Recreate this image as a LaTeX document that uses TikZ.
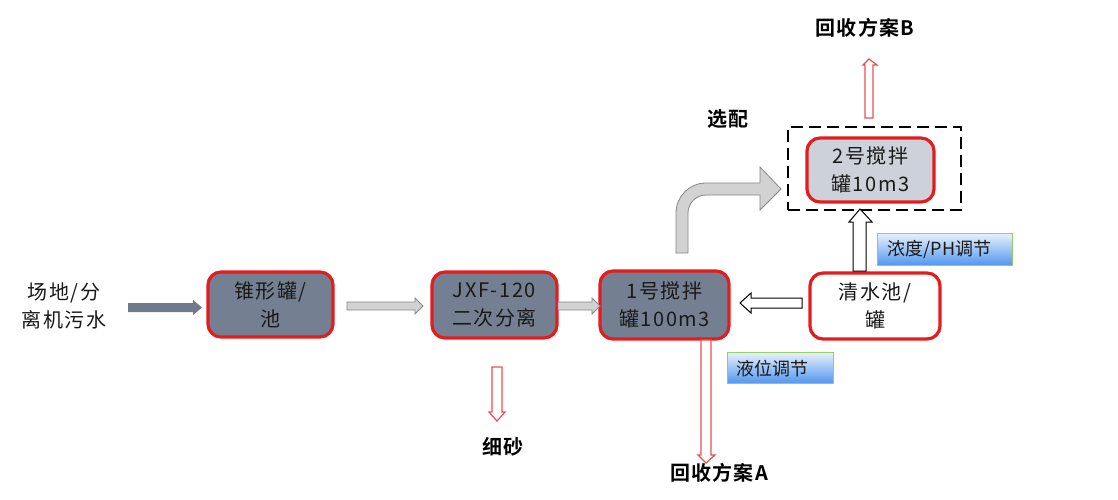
\documentclass[tikz,border=0pt]{standalone}
\usepackage{fontspec}
\setmainfont{Noto Sans CJK SC}
\newfontfamily\cjkb{Noto Sans CJK SC Bold}
\newfontfamily\cjkw[LetterSpace=8]{Noto Sans CJK SC}
\newfontfamily\cjkbw[LetterSpace=6]{Noto Sans CJK SC Bold}
\usetikzlibrary{shadings}
\definecolor{boxred}{RGB}{228,28,30}
\definecolor{slate}{RGB}{116,128,145}
\definecolor{lightslate}{RGB}{205,210,218}
\definecolor{darkarrow}{RGB}{111,123,140}
\definecolor{lgray}{RGB}{210,210,210}
\definecolor{mgray}{RGB}{135,135,135}
\definecolor{lblgreen}{RGB}{150,208,100}
\definecolor{lbltop}{RGB}{230,240,252}
\definecolor{lblbot}{RGB}{80,150,238}
\definecolor{arrred}{RGB}{235,80,80}
\begin{document}
\begin{tikzpicture}[x=1pt,y=-1pt,
  procbox/.style={draw=boxred, line width=3.2pt, rounded corners=13pt, align=center,
    font=\cjkw\fontsize{20}{28}\selectfont, text=black!90, inner sep=0pt},
  tag/.style={draw=lblgreen, line width=1.2pt, top color=lbltop, bottom color=lblbot,
    font=\fontsize{18}{20}\selectfont, text=black!90, inner sep=0pt, anchor=north west},
  boldlbl/.style={font=\cjkbw\fontsize{20}{22}\selectfont, text=black},
  grayarrow/.style={fill=lgray, draw=mgray, line width=0.8pt, line join=miter},
  whitearrow/.style={fill=white, draw=black, line width=1pt},
  redarrow/.style={fill=white, draw=arrred, line width=1.2pt}
]
\useasboundingbox (0,0) rectangle (1118,500);
\fill[white] (0,0) rectangle (1118,500);

% nodes
\node[align=center, font=\cjkw\fontsize{20}{28}\selectfont, text=black!90] (src) at (64,306) {场地/分\\离机污水};
\node[procbox, fill=slate, minimum width=125pt, minimum height=65pt] (cone) at (270.5,304.5) {锥形罐/\\池};
\node[procbox, fill=slate, minimum width=125pt, minimum height=66pt] (jxf) at (494.5,305) {JXF-120\\二次分离};
\node[procbox, fill=slate, minimum width=129pt, minimum height=68pt] (mix1) at (664.5,305) {1号搅拌\\罐100m3};
\node[procbox, fill=white, minimum width=130pt, minimum height=66pt] (clear) at (875,306) {清水池/\\罐};
\node[draw=black, line width=2.4pt, dash pattern=on 12pt off 6pt, minimum width=173pt, minimum height=83pt] (opt) at (874.5,168.5) {};
\node[procbox, fill=lightslate, minimum width=127pt, minimum height=64pt] (mix2) at (870.5,170) {2号搅拌\\罐10m3};

\node[tag, minimum width=135pt, minimum height=32pt, text width=115pt, align=left] (ph) at (877,233) {浓度/PH调节};
\node[tag, minimum width=106pt, minimum height=31pt, text width=88pt, align=left] (lvl) at (727,352) {液位调节};

\node[boldlbl] (sel) at (728,119) {选配};
\node[boldlbl] (sand) at (503,447) {细砂};
\node[boldlbl] (recA) at (719,473) {回收方案A};
\node[boldlbl] (recB) at (865,28) {回收方案B};

% dark arrow: source -> cone
\fill[darkarrow] (128,303) -- (193,303) -- (193,300) -- (202,307.5) -- (193,315) -- (193,312) -- (128,312) -- cycle;
% gray arrow cone -> jxf
\draw[grayarrow] (347,302) -- (415,302) -- (415,298) -- (423,306) -- (415,314) -- (415,310) -- (347,310) -- cycle;
% gray arrow jxf -> mix1
\draw[grayarrow] (558,302) -- (592,302) -- (592,298) -- (600,306) -- (592,314) -- (592,310) -- (558,310) -- cycle;
% white arrow clear -> mix1
\draw[whitearrow] (802,298) -- (751,298) -- (751,293) -- (740,303) -- (751,313) -- (751,308) -- (802,308) -- cycle;
% white arrow clear -> opt
\draw[whitearrow] (853,271) -- (853,222) -- (849,222) -- (860,209) -- (872,222) -- (866,222) -- (866,271) -- cycle;
% curved gray arrow mix1 -> opt
\draw[grayarrow] (676,253) -- (676,213) .. controls (676,196.4) and (689.4,183) .. (706,183)
  -- (760,183) -- (760,167) -- (781,189) -- (760,210) -- (760,195) -- (706,195)
  .. controls (696.1,195) and (688,203.1) .. (688,213) -- (688,253) -- cycle;
% red arrows
\draw[redarrow] (492,367) -- (502,367) -- (502,412) -- (505,412) -- (497,421) -- (489,412) -- (492,412) -- cycle;
\draw[redarrow] (701,340) -- (711,340) -- (711,455) -- (715,455) -- (706,463) -- (698,455) -- (701,455) -- cycle;
\draw[redarrow] (865,118) -- (865,65) -- (863,65) -- (869,59) -- (877,65) -- (873,65) -- (873,118) -- cycle;
\end{tikzpicture}
\end{document}
